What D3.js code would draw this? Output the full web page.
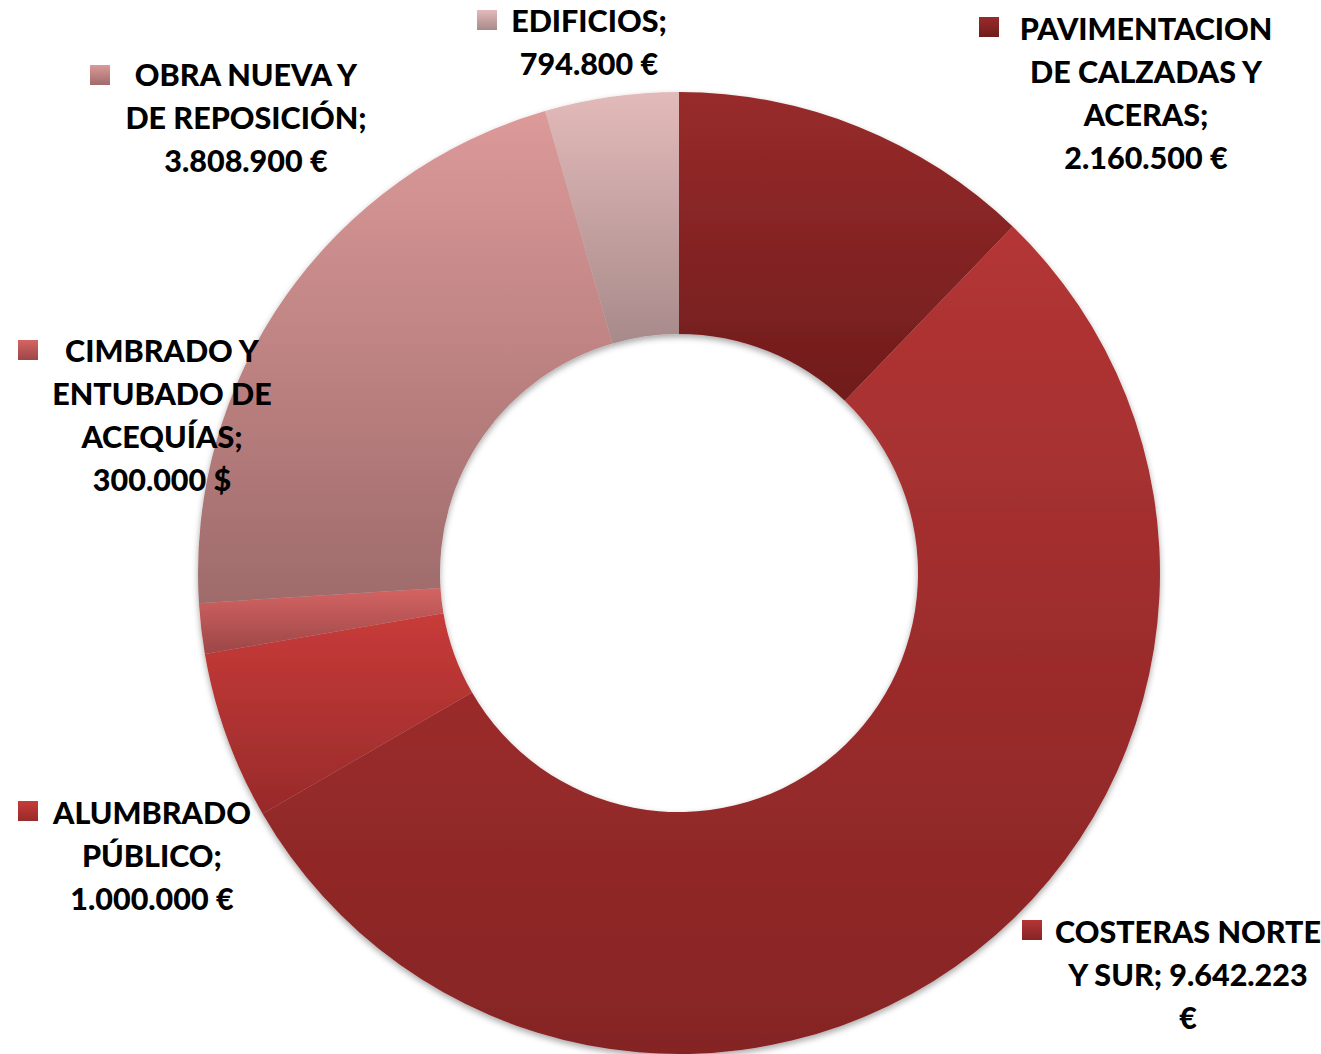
<!DOCTYPE html>
<html>
<head>
<meta charset="utf-8">
<script src="https://cdn.jsdelivr.net/npm/d3@7"></script>
<style>
	html, body { margin: 0; padding: 0; background: #fff; }
	body { width: 1321px; height: 1054px; overflow: hidden; }
</style>
</head>
<body>
<div id="chart"></div>
<script>
//data
const categories = [
	'PAVIMENTACION DE CALZADAS Y ACERAS',
	'COSTERAS NORTE Y SUR',
	'ALUMBRADO PÚBLICO',
	'CIMBRADO Y ENTUBADO DE ACEQUÍAS',
	'OBRA NUEVA Y DE REPOSICIÓN',
	'EDIFICIOS',
];
const values = [2160500, 9642223, 1000000, 300000, 3808900, 794800];
const labelLines = [
	['PAVIMENTACION', 'DE CALZADAS Y', 'ACERAS;', '2.160.500 €'],
	['COSTERAS NORTE', 'Y SUR; 9.642.223', '€'],
	['ALUMBRADO', 'PÚBLICO;', '1.000.000 €'],
	['CIMBRADO Y', 'ENTUBADO DE', 'ACEQUÍAS;', '300.000 $'],
	['OBRA NUEVA Y', 'DE REPOSICIÓN;', '3.808.900 €'],
	['EDIFICIOS;', '794.800 €'],
];

// gradient stops per slice: [top, bottom]
const colors = [
	['#982b2b', '#701c1c'],
	['#b43535', '#862424'],
	['#c83b39', '#982a2a'],
	['#d46463', '#9c4646'],
	['#dc9a99', '#9f6b6b'],
	['#e3baba', '#a88a8a'],
];

// label block placement: center x, first baseline y, marker x, marker y
const labelPos = [
	{ cx: 1146, y: 40, mx: 979, my: 17 },
	{ cx: 1188, y: 943, mx: 1022, my: 920 },
	{ cx: 152, y: 824, mx: 18, my: 801 },
	{ cx: 162, y: 362, mx: 18, my: 340 },
	{ cx: 246, y: 86, mx: 90, my: 65 },
	{ cx: 589, y: 32, mx: 477, my: 10 },
];

render();

function render() {
	let props = {
		width: 1321,
		height: 1054,
		cx: 679,
		cy: 573,
		outerRadius: 481,
		innerRadius: 239,
		fontSize: 30.5,
		lineHeight: 43,
		markerSize: 20,
	};
	createVisualization(d3.select('#chart'), props);
}

function createVisualization(container, props) {
	let { width, height, cx, cy, outerRadius, innerRadius, fontSize, lineHeight, markerSize } = props;

	const data = categories.map((name, i) => ({ name, value: values[i], index: i }));

	let svg = container
		.append('svg')
		.attr('width', width)
		.attr('height', height);

	let defs = svg.append('defs');

	let grads = defs
		.selectAll('linearGradient')
		.data(data)
		.enter()
		.append('linearGradient')
		.attr('id', (d) => `grad${d.index}`)
		.attr('x1', 0)
		.attr('y1', 0)
		.attr('x2', 0)
		.attr('y2', 1);
	grads
		.append('stop')
		.attr('offset', '0%')
		.attr('stop-color', (d) => colors[d.index][0]);
	grads
		.append('stop')
		.attr('offset', '100%')
		.attr('stop-color', (d) => colors[d.index][1]);

	let shadow = defs
		.append('filter')
		.attr('id', 'shadow')
		.attr('x', '-10%')
		.attr('y', '-10%')
		.attr('width', '120%')
		.attr('height', '120%');
	shadow
		.append('feDropShadow')
		.attr('dx', 0)
		.attr('dy', 3)
		.attr('stdDeviation', 3)
		.attr('flood-color', '#000')
		.attr('flood-opacity', 0.35);

	let pie = d3
		.pie()
		.sort(null)
		.value((d) => d.value)
		.startAngle(0)
		.endAngle(Math.PI * 2);

	let arc = d3.arc().innerRadius(innerRadius).outerRadius(outerRadius);

	let arcGroup = svg
		.append('g')
		.attr('class', 'arc-group')
		.attr('transform', translation(cx, cy))
		.attr('filter', 'url(#shadow)');

	arcGroup
		.selectAll('path')
		.data(pie(data))
		.enter()
		.append('path')
		.attr('d', arc)
		.attr('fill', (d) => `url(#grad${d.data.index})`);

	//labels
	let labels = svg
		.selectAll('.label')
		.data(data)
		.enter()
		.append('g')
		.attr('class', 'label');

	labels
		.append('rect')
		.attr('x', (d) => labelPos[d.index].mx)
		.attr('y', (d) => labelPos[d.index].my)
		.attr('width', markerSize)
		.attr('height', markerSize)
		.attr('fill', (d) => `url(#grad${d.index})`);

	labels
		.append('text')
		.attr('font-family', 'Lato, "Open Sans", sans-serif')
		.attr('font-weight', 900)
		.attr('font-size', fontSize)
		.attr('fill', '#000')
		.attr('text-anchor', 'middle')
		.selectAll('tspan')
		.data((d) => labelLines[d.index].map((t, j) => ({ t, j, i: d.index })))
		.enter()
		.append('tspan')
		.attr('x', (d) => labelPos[d.i].cx)
		.attr('y', (d) => labelPos[d.i].y + d.j * lineHeight)
		.text((d) => d.t);
}

//utils
function translation(x, y) {
	return `translate(${x}, ${y})`;
}
</script>
</body>
</html>
